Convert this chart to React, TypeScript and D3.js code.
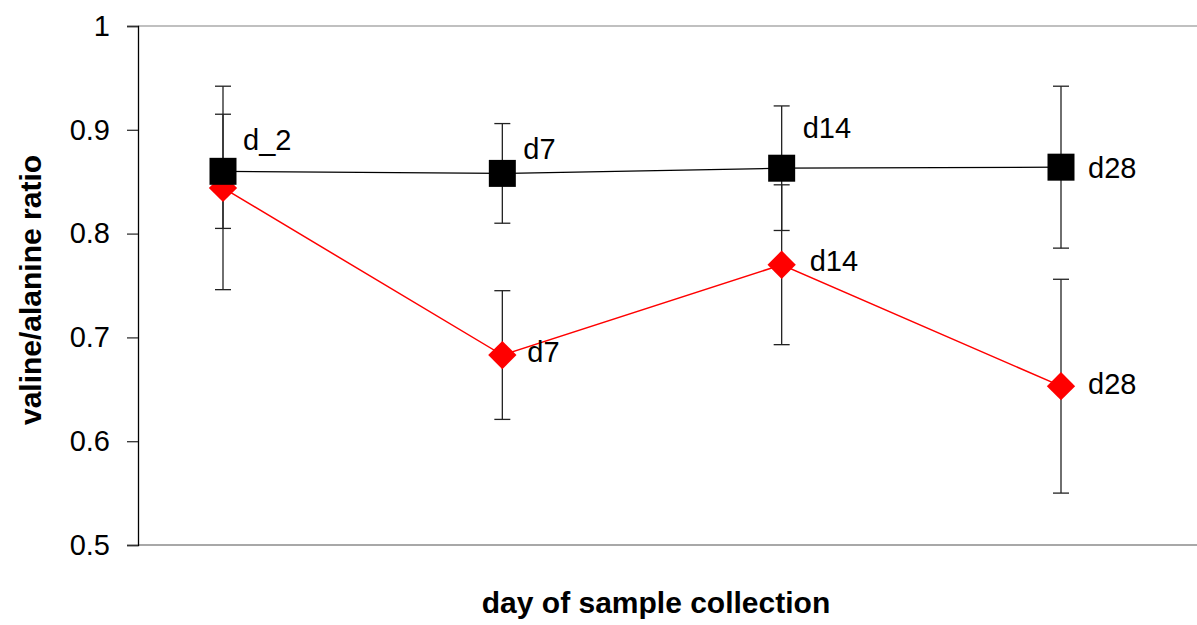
import React, { useEffect, useRef } from "react";
import * as d3 from "d3";

const categories = ["d_2", "d7", "d14", "d28"];
const blackValues = [0.86, 0.858, 0.863, 0.864];
const blackErrors = [0.055, 0.048, 0.06, 0.078];
const redValues = [0.844, 0.683, 0.77, 0.653];
const redErrors = [0.098, 0.062, 0.077, 0.103];
const yTicks = [0.5, 0.6, 0.7, 0.8, 0.9, 1];
// label offsets (px) relative to each point
const blackLabelDx = [20, 21, 21, 27];
const blackLabelDy = [-21, -14, -30, 11];
const redLabelDx = [25, 25, 28, 27];
const redLabelDy = [7, 7, 6, 8];

const W = 1197;
const H = 625;
const FONT = "Liberation Sans, Arial, sans-serif";

export default function App() {
  const ref = useRef<SVGSVGElement>(null);

  useEffect(() => {
    const svg = d3.select(ref.current);
    svg.selectAll("*").remove();

    const left = 138;
    const top = 26;
    const bottom = 545;
    const y = d3.scaleLinear().domain([0.5, 1]).range([bottom, top]);
    const x = d3.scalePoint<string>().domain(categories).range([223, 1061]);

    svg.append("line").attr("x1", left).attr("x2", W).attr("y1", y(1)).attr("y2", y(1))
      .attr("stroke", "#c0c0c0").attr("stroke-width", 2);
    svg.append("line").attr("x1", left).attr("x2", W).attr("y1", bottom).attr("y2", bottom)
      .attr("stroke", "#a8a8a8").attr("stroke-width", 2);

    const yAxis = d3.axisLeft(y).tickValues(yTicks).tickSize(11).tickPadding(17)
      .tickFormat((d: any) => (d === 1 ? "1" : d3.format(".1f")(d)));
    const ga = svg.append("g").attr("transform", `translate(${left},0)`).call(yAxis as any);
    ga.select(".domain").attr("stroke", "#000").attr("stroke-width", 1.3);
    ga.selectAll(".tick line").attr("stroke", "#333").attr("stroke-width", 1.3);
    ga.selectAll(".tick text").attr("font-family", FONT).attr("font-size", 29).attr("fill", "#000");

    const drawErrors = (vals: number[], errs: number[]) => {
      vals.forEach((v, i) => {
        const cx = x(categories[i])!;
        const y1 = y(v + errs[i]);
        const y2 = y(v - errs[i]);
        svg.append("line").attr("x1", cx).attr("x2", cx).attr("y1", y1).attr("y2", y2)
          .attr("stroke", "#222").attr("stroke-width", 1.3);
        [y1, y2].forEach((yy) =>
          svg.append("line").attr("x1", cx - 8).attr("x2", cx + 8).attr("y1", yy).attr("y2", yy)
            .attr("stroke", "#222").attr("stroke-width", 1.3)
        );
      });
    };

    drawErrors(blackValues, blackErrors);
    drawErrors(redValues, redErrors);

    const line = d3.line<number>().x((_, i) => x(categories[i])!).y((d) => y(d));
    svg.append("path").datum(blackValues).attr("d", line).attr("fill", "none")
      .attr("stroke", "#000").attr("stroke-width", 1.3);
    svg.append("path").datum(redValues).attr("d", line).attr("fill", "none")
      .attr("stroke", "#ff0000").attr("stroke-width", 1.5);

    const diamond = d3.symbol().type(d3.symbolSquare).size(400);
    redValues.forEach((v, i) => {
      svg.append("path").attr("d", diamond()!)
        .attr("transform", `translate(${x(categories[i])},${y(v)}) rotate(45)`)
        .attr("fill", "#ff0000");
    });
    const sq = d3.symbol().type(d3.symbolSquare).size(27 * 27);
    blackValues.forEach((v, i) => {
      svg.append("path").attr("d", sq()!)
        .attr("transform", `translate(${x(categories[i])},${y(v)})`)
        .attr("fill", "#000");
    });

    blackValues.forEach((v, i) => {
      svg.append("text").attr("x", x(categories[i])! + blackLabelDx[i]).attr("y", y(v) + blackLabelDy[i])
        .attr("font-family", FONT).attr("font-size", 29).attr("fill", "#000").text(categories[i]);
    });
    redValues.forEach((v, i) => {
      if (i === 0) return;
      svg.append("text").attr("x", x(categories[i])! + redLabelDx[i]).attr("y", y(v) + redLabelDy[i])
        .attr("font-family", FONT).attr("font-size", 29).attr("fill", "#000").text(categories[i]);
    });

    svg.append("text").attr("x", 656).attr("y", 613).attr("text-anchor", "middle")
      .attr("font-family", FONT).attr("font-weight", "bold").attr("font-size", 30)
      .attr("fill", "#000").text("day of sample collection");
    svg.append("text").attr("transform", `translate(41,290) rotate(-90)`)
      .attr("text-anchor", "middle")
      .attr("font-family", FONT).attr("font-weight", "bold").attr("font-size", 30)
      .attr("fill", "#000").text("valine/alanine ratio");
  }, []);

  return (
    <svg ref={ref} width={W} height={H} style={{ position: "absolute", left: 0, top: 0, background: "#fff" }} />
  );
}
